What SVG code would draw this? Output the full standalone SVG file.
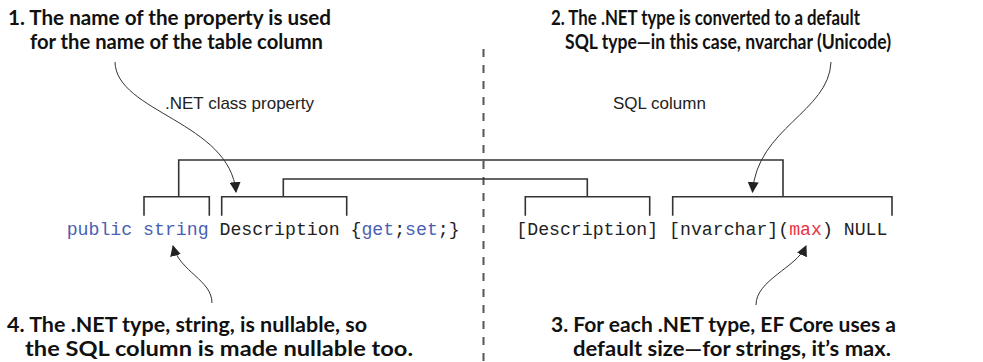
<svg xmlns="http://www.w3.org/2000/svg" width="983" height="362" viewBox="0 0 983 362">
<style>
.note{font-family:Lato,"Open Sans","Liberation Sans",sans-serif;font-weight:bold;font-size:20px;fill:#111}
.lbl{font-family:"Liberation Sans",Arial,sans-serif;font-size:17px;fill:#222}
.code{font-family:"Liberation Mono","Courier New",monospace;font-size:18.2px;fill:#222}
.kw{fill:#4a5fb3}
.red{fill:#e8333f}
.ln{fill:none;stroke:#333;stroke-width:1.6}
.cv{fill:none;stroke:#333;stroke-width:1}
.dash{fill:none;stroke:#555;stroke-width:2;stroke-dasharray:8 8}
</style>
<defs>
<marker id="ah" viewBox="0 0 10 10" refX="9" refY="5" markerWidth="11" markerHeight="11" markerUnits="userSpaceOnUse" orient="auto">
<path d="M0,0 L10,5 L0,10 z" fill="#222"/>
</marker>
</defs>
<rect width="983" height="362" fill="#fff"/>
<line class="dash" x1="483.5" y1="49" x2="483.5" y2="362"/>

<g id="note1">
<text class="note" x="8" y="25" textLength="323" lengthAdjust="spacingAndGlyphs">1. The name of the property is used</text>
<text class="note" x="30" y="49" textLength="293" lengthAdjust="spacingAndGlyphs">for the name of the table column</text>
</g>
<g id="note2">
<text class="note" x="551" y="25" textLength="309" lengthAdjust="spacingAndGlyphs">2. The .NET type is converted to a default</text>
<text class="note" x="565" y="49" textLength="326" lengthAdjust="spacingAndGlyphs">SQL type—in this case, nvarchar (Unicode)</text>
</g>
<g id="note4">
<text class="note" x="7" y="332" textLength="360" lengthAdjust="spacingAndGlyphs">4. The .NET type, string, is nullable, so</text>
<text class="note" x="25" y="356" textLength="388" lengthAdjust="spacingAndGlyphs">the SQL column is made nullable too.</text>
</g>
<g id="note3">
<text class="note" x="551" y="332" textLength="345" lengthAdjust="spacingAndGlyphs">3. For each .NET type, EF Core uses a</text>
<text class="note" x="573" y="356" textLength="318" lengthAdjust="spacingAndGlyphs">default size—for strings, it’s max.</text>
</g>

<g id="label-net">
<text class="lbl" x="165" y="109">.NET class property</text>
</g>
<g id="label-sql">
<text class="lbl" x="613" y="109">SQL column</text>
</g>

<g id="code-net">
<text class="code" x="66.7" y="235" xml:space="preserve"><tspan class="kw">public</tspan> <tspan class="kw">string</tspan> Description {<tspan class="kw">get</tspan>;<tspan class="kw">set</tspan>;}</text>
</g>
<g id="code-sql">
<text class="code" x="516.3" y="235" xml:space="preserve">[Description] [nvarchar](<tspan class="red">max</tspan>) NULL</text>
</g>

<g id="connectors">
<path class="ln" d="M144,215.7 V196.7 H209.3 V215.7"/>
<path class="ln" d="M221.7,215.7 V196.7 H346.7 V215.7"/>
<path class="ln" d="M525.3,215.7 V196.7 H649.7 V215.7"/>
<path class="ln" d="M672.7,215.7 V196.7 H892 V215.7"/>
<path class="ln" d="M178.7,196.7 V160 H783 V196.7"/>
<path class="ln" d="M283.3,196.7 V179 H587.3 V196.7"/>
<path class="cv" d="M115,62 C116,112 230,122 236,192" marker-end="url(#ah)"/>
<path class="cv" d="M831,62 C829,112 757,128 752.5,192" marker-end="url(#ah)"/>
<path class="cv" d="M212,303 C212,280 180,272 173,246" marker-end="url(#ah)"/>
<path class="cv" d="M756,305 C756,280 796,268 806,246" marker-end="url(#ah)"/>
</g>
</svg>
